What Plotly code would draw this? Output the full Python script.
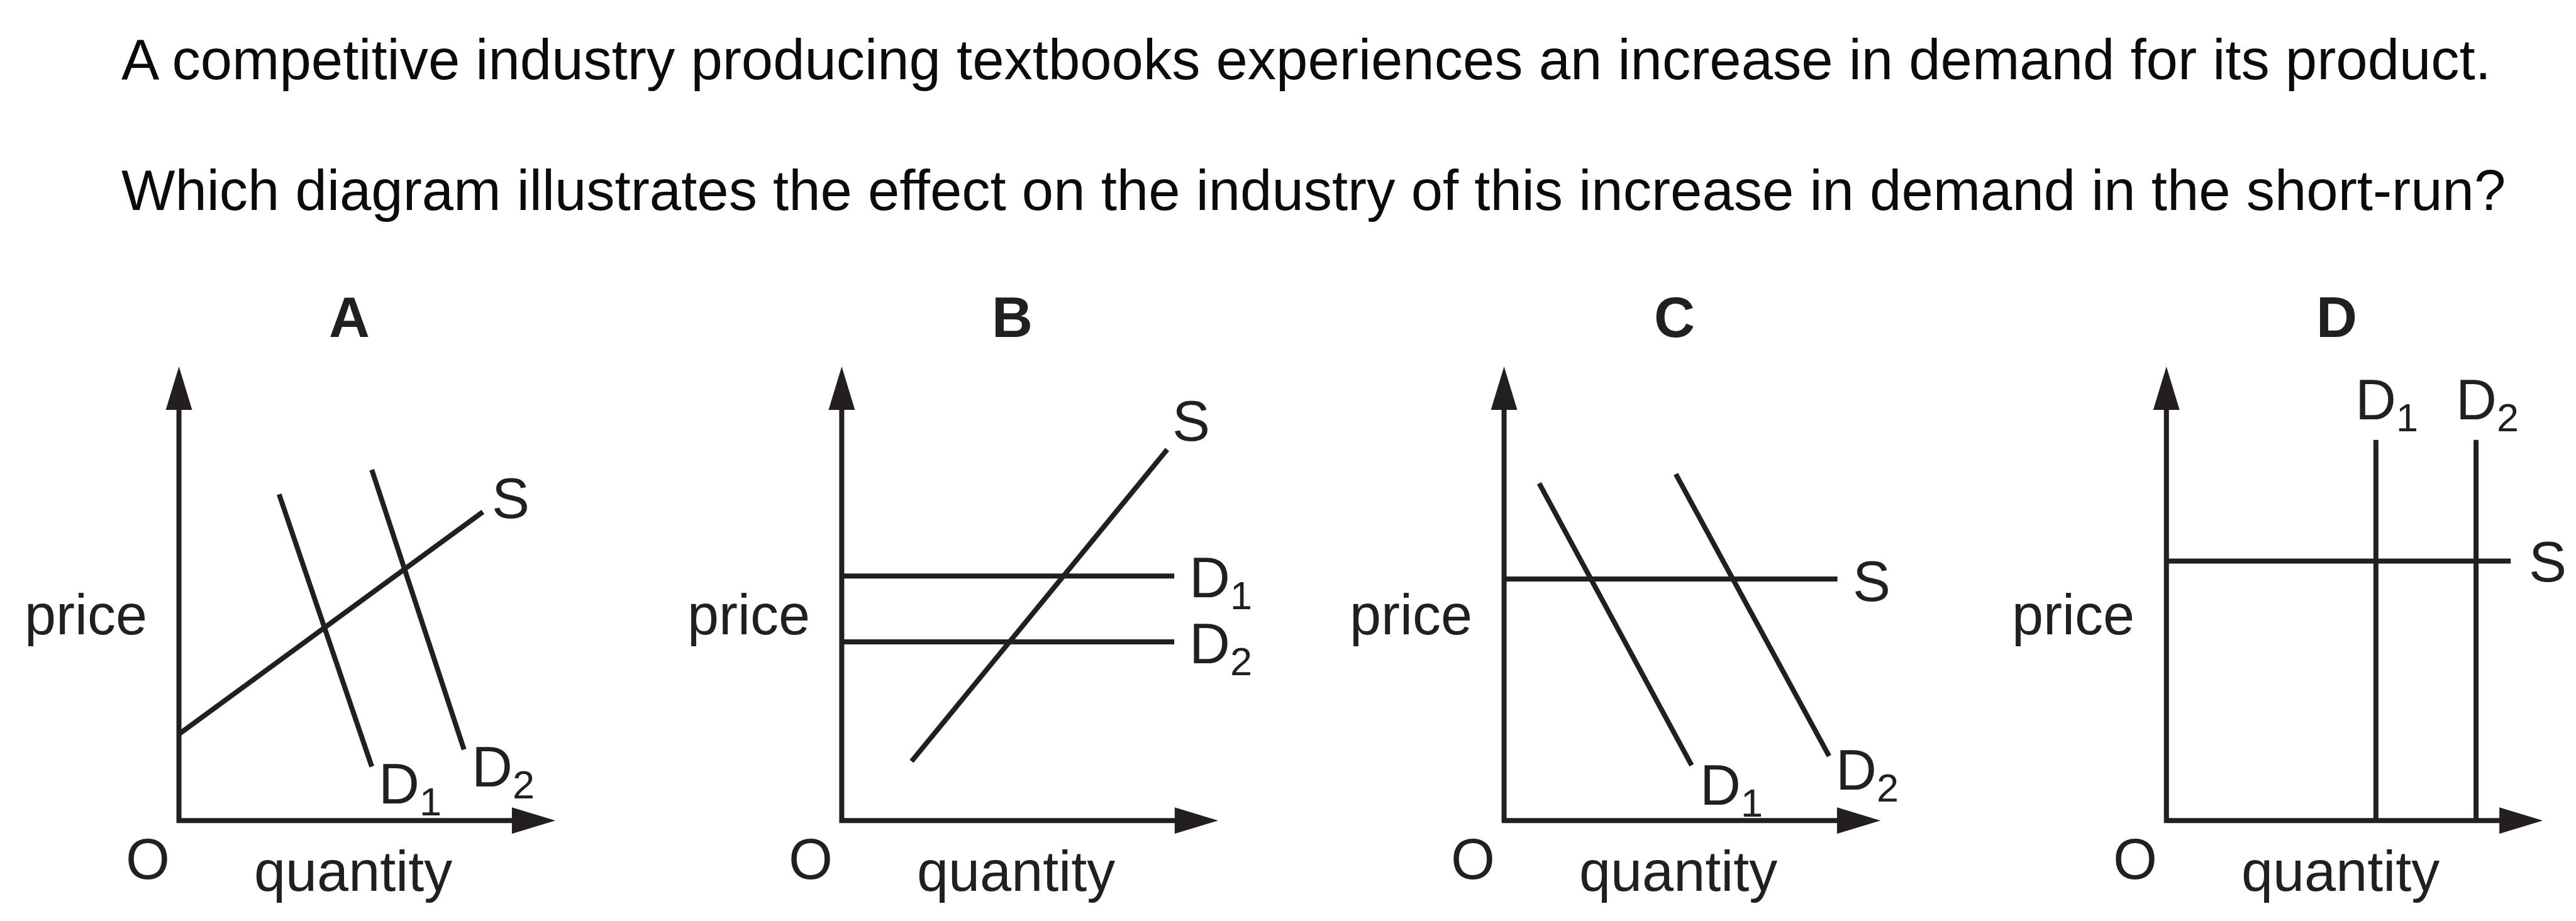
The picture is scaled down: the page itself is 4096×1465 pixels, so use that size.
import plotly.graph_objects as go

# ---------------- data (quantity / price units) ----------------
panel_letters = ["A", "B", "C", "D"]
axis_x_label = "quantity"
axis_y_label = "price"
origin_label = "O"
question_lines = [
    "A competitive industry producing textbooks experiences an increase in demand for its product.",
    "Which diagram illustrates the effect on the industry of this increase in demand in the short-run?",
]

A_supply_q = [0.00, 6.92]
A_supply_p = [1.97, 7.03]
A_d1_q = [2.28, 4.39]
A_d1_p = [7.43, 1.23]
A_d2_q = [4.39, 6.49]
A_d2_p = [7.99, 1.62]

B_supply_q = [1.59, 7.41]
B_supply_p = [1.35, 8.45]
B_d1_q = [0.00, 7.57]
B_d1_p = [5.57, 5.57]
B_d2_q = [0.00, 7.57]
B_d2_p = [4.07, 4.07]

C_supply_q = [0.00, 7.59]
C_supply_p = [5.50, 5.50]
C_d1_q = [0.80, 4.27]
C_d1_p = [7.68, 1.26]
C_d2_q = [3.91, 7.40]
C_d2_p = [7.89, 1.47]

D_supply_q = [0.00, 7.84]
D_supply_p = [5.91, 5.91]
D_d1_q = [4.77, 4.77]
D_d1_p = [0.00, 8.67]
D_d2_q = [7.05, 7.05]
D_d2_p = [0.00, 8.67]

curve_names = ["S", "D<sub>1</sub>", "D<sub>2</sub>"]

# ---------------- layout constants ----------------
W, H = 4096, 1465
REF_W, REF_H = 5865, 2097
UNIT_REF = 100.0            # reference pixels per data unit
INK = "#231f20"
TITLE_INK = "#0b0b0d"
FONT = "Liberation Sans, Arial, sans-serif"
FS = 90
TITLE_FS = 90.5
LW = 8

X_AXIS_END, Y_AXIS_END = 8.57, 10.34      # arrow tips
X_VIEW = [-3.0, 9.3]
Y_VIEW = [-1.7, 12.0]
ARROW_LEN, ARROW_HALF = 0.99, 0.30
ORIGIN_Y_REF = 1857
origins_x_ref = [396, 1905, 3413, 4921]

# label positions (data units of each panel): S centre, D1 / D2 left edge + cap centre
label_pos = {
    "A": {"S": (7.55, 7.33), "D1": (4.52, 0.85), "D2": (6.64, 1.24)},
    "B": {"S": (7.96, 9.10), "D1": (7.89, 5.55), "D2": (7.89, 4.04)},
    "C": {"S": (8.37, 5.45), "D1": (4.43, 0.83), "D2": (7.52, 1.17)},
    "D": {"S": (8.68, 5.89), "D1": (4.27, 9.60), "D2": (6.56, 9.60)},
}
SUB_SHIFT = 0.11
PRICE_POS = (-2.12, 4.69)
O_POS = (-0.71, -0.88)
QTY_POS = (3.97, -1.16)
LETTER_POS = (3.88, 11.46)

series = {
    "A": [(A_supply_q, A_supply_p), (A_d1_q, A_d1_p), (A_d2_q, A_d2_p)],
    "B": [(B_supply_q, B_supply_p), (B_d1_q, B_d1_p), (B_d2_q, B_d2_p)],
    "C": [(C_supply_q, C_supply_p), (C_d1_q, C_d1_p), (C_d2_q, C_d2_p)],
    "D": [(D_supply_q, D_supply_p), (D_d1_q, D_d1_p), (D_d2_q, D_d2_p)],
}

fig = go.Figure()
shapes = []
annotations = []

y_dom = [(REF_H - (ORIGIN_Y_REF - Y_VIEW[0] * UNIT_REF)) / REF_H,
         (REF_H - (ORIGIN_Y_REF - Y_VIEW[1] * UNIT_REF)) / REF_H]

for i, letter in enumerate(panel_letters):
    n = "" if i == 0 else str(i + 1)
    xa, ya = "x" + n, "y" + n
    ox = origins_x_ref[i]
    x_dom = [(ox + X_VIEW[0] * UNIT_REF) / REF_W, (ox + X_VIEW[1] * UNIT_REF) / REF_W]
    fig.update_layout(**{
        "xaxis" + n: dict(domain=x_dom, range=X_VIEW, anchor=ya, visible=False, fixedrange=True),
        "yaxis" + n: dict(domain=y_dom, range=Y_VIEW, anchor=xa, visible=False, fixedrange=True),
    })
    for (q, p) in series[letter]:
        fig.add_trace(go.Scatter(x=q, y=p, mode="lines", xaxis=xa, yaxis=ya,
                                 line=dict(color=INK, width=LW), hoverinfo="skip",
                                 showlegend=False))
    # axes with arrowheads
    shapes.append(dict(type="path", xref=xa, yref=ya,
                       path=f"M0,{Y_AXIS_END - ARROW_LEN + 0.05} L0,0 L{X_AXIS_END - ARROW_LEN + 0.05},0",
                       line=dict(color=INK, width=LW)))
    shapes.append(dict(type="path", xref=xa, yref=ya,
                       path=f"M{-ARROW_HALF},{Y_AXIS_END - ARROW_LEN} L0,{Y_AXIS_END} "
                            f"L{ARROW_HALF},{Y_AXIS_END - ARROW_LEN} Z",
                       fillcolor=INK, line=dict(width=0)))
    shapes.append(dict(type="path", xref=xa, yref=ya,
                       path=f"M{X_AXIS_END - ARROW_LEN},{-ARROW_HALF} L{X_AXIS_END},0 "
                            f"L{X_AXIS_END - ARROW_LEN},{ARROW_HALF} Z",
                       fillcolor=INK, line=dict(width=0)))

    base = dict(xref=xa, yref=ya, showarrow=False, font=dict(family=FONT, size=FS, color=INK))
    annotations.append(dict(base, x=LETTER_POS[0], y=LETTER_POS[1], text=f"<b>{letter}</b>",
                            xanchor="center", yanchor="middle"))
    annotations.append(dict(base, x=PRICE_POS[0], y=PRICE_POS[1], text=axis_y_label,
                            xanchor="center", yanchor="middle"))
    annotations.append(dict(base, x=O_POS[0], y=O_POS[1], text=origin_label,
                            xanchor="center", yanchor="middle"))
    annotations.append(dict(base, x=QTY_POS[0], y=QTY_POS[1], text=axis_x_label,
                            xanchor="center", yanchor="middle"))
    lp = label_pos[letter]
    annotations.append(dict(base, x=lp["S"][0], y=lp["S"][1], text=curve_names[0],
                            xanchor="center", yanchor="middle"))
    annotations.append(dict(base, x=lp["D1"][0], y=lp["D1"][1] - SUB_SHIFT, text=curve_names[1],
                            xanchor="left", yanchor="middle"))
    annotations.append(dict(base, x=lp["D2"][0], y=lp["D2"][1] - SUB_SHIFT, text=curve_names[2],
                            xanchor="left", yanchor="middle"))

# question text
title_x = 262 / REF_W
title_y = [1 - 86.1 / H, 1 - 294.9 / H]
for line, ty in zip(question_lines, title_y):
    annotations.append(dict(xref="paper", yref="paper", x=title_x, y=ty, text=line,
                            showarrow=False, xanchor="left", yanchor="middle",
                            font=dict(family=FONT, size=TITLE_FS, color=TITLE_INK)))

fig.update_layout(width=W, height=H, autosize=False,
                  margin=dict(l=0, r=0, t=0, b=0, pad=0),
                  paper_bgcolor="white", plot_bgcolor="rgba(0,0,0,0)",
                  shapes=shapes, annotations=annotations, showlegend=False)

fig.write_html("out.html")
